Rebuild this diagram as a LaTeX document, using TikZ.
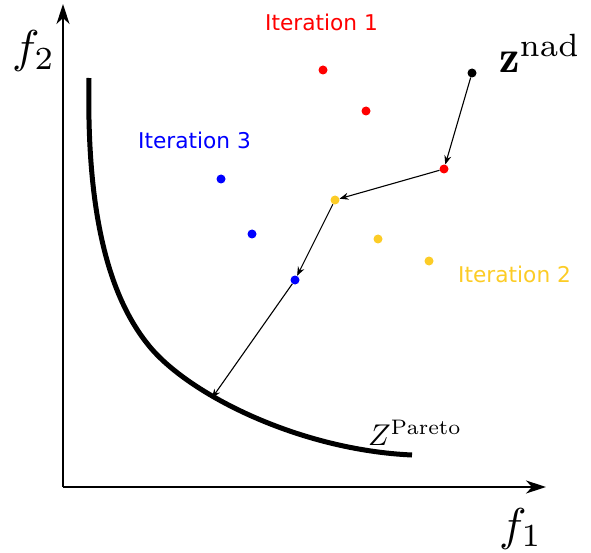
\documentclass[tikz,border=0pt]{standalone}
\usepackage{fontspec}
\newfontfamily\itersans{DejaVu Sans}
\usetikzlibrary{arrows.meta, positioning}

\definecolor{iterred}{RGB}{255,0,0}
\definecolor{iteryellow}{RGB}{252,204,38}
\definecolor{iterblue}{RGB}{0,0,255}

\begin{document}
\begin{tikzpicture}[
    x=1pt, y=-1pt,
    % --- BASE STYLES ---
    axis/.style={draw=black, line width=1.4pt, -{Stealth[length=20pt, width=13pt, inset=6pt]}},
    front/.style={draw=black, line width=5pt},
    dot/.style={circle, inner sep=0pt, minimum size=9pt},
    arr/.style={draw=black, line width=1.1pt, -{Stealth[length=9pt, width=7pt, inset=3pt]}},
    mathlabel/.style={inner sep=0pt, anchor=base west, font=\fontsize{10}{12}\selectfont},
    iterlabel/.style={inner sep=0pt, anchor=base west, font=\itersans\fontsize{21.7}{26}\selectfont}
]

\useasboundingbox (0,0) rectangle (591,553);

% ==========================================
% AXES
% ==========================================
\coordinate (origin) at (63,487);
\coordinate (ytip) at (63,4);
\coordinate (xtip) at (546,487);
\draw[axis] (origin) -- (ytip);
\draw[axis] (origin) -- (xtip);

\node[mathlabel] (f2) at (12,63) {\scalebox{4.6}{$f_2$}};
\node[mathlabel] (f1) at (499,540) {\scalebox{4.6}{$f_1$}};

% ==========================================
% PARETO FRONT
% ==========================================
\draw[front] (89,78) .. controls (86,230) and (115,305) .. (150,347)
    .. controls (190,395) and (300,450) .. (412,455);
\coordinate (hit) at (212,398);
\node[mathlabel] (zpareto) at (368,445) {\scalebox{3}{$Z^{\mathrm{Pareto}}$}};

% ==========================================
% POINTS PER ITERATION
% ==========================================
\node[dot, fill=black] (znad) at (472,73) {};
\node[mathlabel] (znadlabel) at (499,73) {\scalebox{4.6}{$\mathbf{z}^{\mathrm{nad}}$}};

\foreach \n/\x/\y in {it1a/323/70, it1b/366/111, it1c/444/169}
    \node[dot, fill=iterred] (\n) at (\x,\y) {};
\foreach \n/\x/\y in {it2a/335/200, it2b/378/239, it2c/429/261}
    \node[dot, fill=iteryellow] (\n) at (\x,\y) {};
\foreach \n/\x/\y in {it3a/221/179, it3b/252/234, it3c/295/280}
    \node[dot, fill=iterblue] (\n) at (\x,\y) {};

\node[iterlabel, text=iterred] (iter1) at (265,31) {Iteration 1};
\node[iterlabel, text=iteryellow] (iter2) at (458,282) {Iteration 2};
\node[iterlabel, text=iterblue] (iter3) at (138,149) {Iteration 3};

% Search path
\draw[arr] (znad) -- (it1c);
\draw[arr] (it1c) -- (it2a);
\draw[arr] (it2a) -- (it3c);
\draw[arr] (it3c) -- (hit);

\end{tikzpicture}
\end{document}
